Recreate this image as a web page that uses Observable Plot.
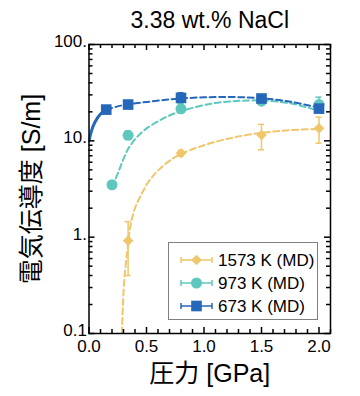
<!DOCTYPE html>
<html><head><meta charset="utf-8">
<script src="https://cdn.jsdelivr.net/npm/d3@7"></script>
<script src="https://cdn.jsdelivr.net/npm/@observablehq/plot@0.6"></script>
<style>
html,body{margin:0;padding:0;background:#fff;}
#wrap{position:relative;width:360px;height:396px;font-family:"Liberation Sans",Arial,sans-serif;}
#legend{position:absolute;left:168px;top:242px;width:150px;height:78px;border:1px solid #808080;background:#fff;box-sizing:border-box;}
</style></head>
<body><div id="wrap"><div id="chart"></div><div id="legend"></div></div>
<script>
// ---- data ----
const title = "3.38 wt.% NaCl";
const xLabel = "圧力 [GPa]";
const yLabel = "電気伝導度 [S/m]";
const xTicks = [0, 0.5, 1.0, 1.5, 2.0];
const xMinor = [0.1,0.2,0.3,0.4,0.6,0.7,0.8,0.9,1.1,1.2,1.3,1.4,1.6,1.7,1.8,1.9,2.1];
const yTicks = [0.1, 1, 10, 100];
const yTickLabels = ["0.1", "1.", "10.", "100."];
const yMinor = [0.2,0.3,0.4,0.5,0.6,0.7,0.8,0.9,2,3,4,5,6,7,8,9,20,30,40,50,60,70,80,90];

const series = ["1573 K (MD)", "973 K (MD)", "673 K (MD)"];
const colors = ["#efc66a", "#5ec8bf", "#2567b8"];
const symbols = ["diamond2", "circle", "square"];

const p673 = [0.15, 0.34, 0.80, 1.50, 2.00];
const s673 = [21.1, 23.8, 27.9, 27.5, 21.6];
const lo673 = [20.0, 22.6, 25.5, 25.6, 19.8];
const hi673 = [22.4, 25.0, 31.5, 29.4, 24.0];

const p973 = [0.20, 0.34, 0.80, 1.50, 2.00];
const s973 = [3.5, 11.4, 21.5, 25.8, 23.8];
const lo973 = [3.25, 10.5, 19.5, 24.6, 19.9];
const hi973 = [3.75, 12.6, 24.3, 27.0, 28.4];

const p1573 = [0.34, 0.80, 1.50, 2.00];
const s1573 = [0.92, 7.43, 11.5, 13.5];
const lo1573 = [0.40, 6.95, 8.07, 9.44];
const hi1573 = [1.45, 7.95, 14.8, 17.6];

// fitted curves
const fit673P = [0, 0.02, 0.05, 0.10, 0.15, 0.25, 0.35, 0.50, 0.65, 0.80, 1.00, 1.25, 1.50, 1.75, 2.00];
const fit673S = [10, 12.5, 15.5, 19, 21, 22.8, 24, 25.3, 26.5, 27.5, 28.3, 28.5, 27.6, 25.5, 22];
const fit973P = [0.20, 0.26, 0.30, 0.35, 0.46, 0.64, 0.80, 1.08, 1.30, 1.50, 1.75, 2.00];
const fit973S = [3.3, 4.9, 6.5, 8.6, 12.3, 16.9, 20.3, 24.5, 26.0, 26.2, 24.5, 20.5];
const fit1573P = [0.287, 0.295, 0.31, 0.335, 0.36, 0.40, 0.45, 0.52, 0.60, 0.70, 0.80, 1.00, 1.25, 1.50, 1.75, 2.00];
const fit1573S = [0.1, 0.2, 0.4, 0.75, 1.3, 2.0, 2.7, 3.8, 4.9, 6.2, 7.3, 9.0, 10.8, 12.1, 12.9, 13.3];

// ---- build ----
const pts = (P, S, L, Hh, k) => P.map((p, i) => ({p, s: S[i], lo: L[i], hi: Hh[i], k}));
const points = [
  ...pts(p1573, s1573, lo1573, hi1573, 0),
  ...pts(p973, s973, lo973, hi973, 1),
  ...pts(p673, s673, lo673, hi673, 2)
];
const curve = (P, S) => P.map((p, i) => ({p, s: S[i]}));
const c673 = curve(fit673P, fit673S);
const c673solid = c673.filter(d => d.p <= 0.15);
const c673dash = c673.filter(d => d.p >= 0.15);

const W = 360, H = 396, mL = 88.5, mR = 30, mT = 44, mB = 63;
const fw = W - mL - mR, fh = H - mT - mB;
const major = 6, minor = 4;
const cjk = "'Liberation Sans', 'Noto Sans CJK JP', sans-serif";

const dash = "6,3.5";
const plot = Plot.plot({
  width: W, height: H,
  marginLeft: mL, marginRight: mR, marginTop: mT, marginBottom: mB,
  style: {fontFamily: "'Liberation Sans', Arial, sans-serif", fontSize: "17px", color: "#000", background: "#fff"},
  x: {domain: [0, 2.1], label: null},
  y: {type: "log", domain: [0.1, 100], label: null},
  marks: [
    // curves
    Plot.line(curve(fit1573P, fit1573S), {x: "p", y: "s", stroke: colors[0], strokeWidth: 2, strokeDasharray: dash, curve: "catmull-rom", clip: true}),
    Plot.line(curve(fit973P, fit973S), {x: "p", y: "s", stroke: colors[1], strokeWidth: 2, strokeDasharray: dash, curve: "catmull-rom", clip: true}),
    Plot.line(c673dash, {x: "p", y: "s", stroke: colors[2], strokeWidth: 2, strokeDasharray: dash, curve: "catmull-rom", clip: true}),
    Plot.line(c673solid, {x: "p", y: "s", stroke: colors[2], strokeWidth: 3, curve: "catmull-rom", clip: true}),
    // error bars
    Plot.ruleX(points, {x: "p", y1: "lo", y2: "hi", stroke: d => colors[d.k], strokeWidth: 1.5}),
    Plot.ruleY(points, {y: "lo", x1: "p", x2: "p", insetLeft: -3, insetRight: -3, stroke: d => colors[d.k], strokeWidth: 1.5}),
    Plot.ruleY(points, {y: "hi", x1: "p", x2: "p", insetLeft: -3, insetRight: -3, stroke: d => colors[d.k], strokeWidth: 1.5}),
    // markers
    Plot.dot(points.filter(d => d.k === 0), {x: "p", y: "s", symbol: symbols[0], r: 4.8, fill: colors[0], stroke: "none"}),
    Plot.dot(points.filter(d => d.k === 1), {x: "p", y: "s", symbol: symbols[1], r: 5.5, fill: colors[1], stroke: "none"}),
    Plot.dot(points.filter(d => d.k === 2), {x: "p", y: "s", symbol: symbols[2], r: 6, fill: colors[2], stroke: "none"}),
    // inward ticks
    Plot.tickX(xTicks, {x: d => d, insetTop: fh - major, stroke: "#000", strokeWidth: 1.5}),
    Plot.tickX(xTicks, {x: d => d, insetBottom: fh - major, stroke: "#000", strokeWidth: 1.5}),
    Plot.tickX(xMinor, {x: d => d, insetTop: fh - minor, stroke: "#000", strokeWidth: 1.5}),
    Plot.tickX(xMinor, {x: d => d, insetBottom: fh - minor, stroke: "#000", strokeWidth: 1.5}),
    Plot.tickY(yTicks, {y: d => d, insetRight: fw - major, stroke: "#000", strokeWidth: 1.5}),
    Plot.tickY(yTicks, {y: d => d, insetLeft: fw - major, stroke: "#000", strokeWidth: 1.5}),
    Plot.tickY(yMinor, {y: d => d, insetRight: fw - minor, stroke: "#000", strokeWidth: 1.5}),
    Plot.tickY(yMinor, {y: d => d, insetLeft: fw - minor, stroke: "#000", strokeWidth: 1.5}),
    Plot.frame({stroke: "#000", strokeWidth: 1.5}),
    // axes labels
    Plot.axisX({ticks: xTicks, tickFormat: d => d.toFixed(1), tickSize: 0, tickPadding: 6, fontSize: 17, label: null}),
    Plot.axisY({ticks: yTicks, tickFormat: d => yTickLabels[yTicks.indexOf(d)], tickSize: 0, tickPadding: 2, dy: -3, fontSize: 17, label: null}),
    // titles
    Plot.text([title], {frameAnchor: "top", dy: -24, text: d => d, fontSize: 23, lineAnchor: "middle"}),
    Plot.text([xLabel], {frameAnchor: "bottom", dy: 40, text: d => d, fontSize: 25, lineAnchor: "middle", fontFamily: cjk}),
    Plot.text([yLabel], {frameAnchor: "left", dx: -57, rotate: -90, text: d => d, fontSize: 25, textAnchor: "middle", lineAnchor: "middle", fontFamily: cjk})
  ]
});
document.getElementById("chart").appendChild(plot);

// legend
const lg = d3.select("#legend").append("svg").attr("width", 148).attr("height", 76)
  .style("position", "absolute").style("left", "0").style("top", "0").style("overflow", "visible");
series.forEach((name, i) => {
  const cy = 17 + i * 23;
  const g = lg.append("g");
  g.append("line").attr("x1", 12).attr("x2", 43).attr("y1", cy).attr("y2", cy).attr("stroke", colors[i]).attr("stroke-width", 1.5);
  g.append("line").attr("x1", 12).attr("x2", 12).attr("y1", cy - 3).attr("y2", cy + 3).attr("stroke", colors[i]).attr("stroke-width", 1.5);
  g.append("line").attr("x1", 43).attr("x2", 43).attr("y1", cy - 3).attr("y2", cy + 3).attr("stroke", colors[i]).attr("stroke-width", 1.5);
  const sym = {diamond2: d3.symbolDiamond2, circle: d3.symbolCircle, square: d3.symbolSquare}[symbols[i]];
  const r = [4.8, 5.5, 6][i];
  g.append("path").attr("d", d3.symbol(sym, Math.PI * r * r)()).attr("transform", `translate(27.5,${cy})`).attr("fill", colors[i]);
  g.append("text").attr("x", 49).attr("y", cy).attr("dy", "0.36em").attr("font-size", 17)
    .attr("font-family", "'Liberation Sans', Arial, sans-serif").text(name);
});
</script></body></html>
